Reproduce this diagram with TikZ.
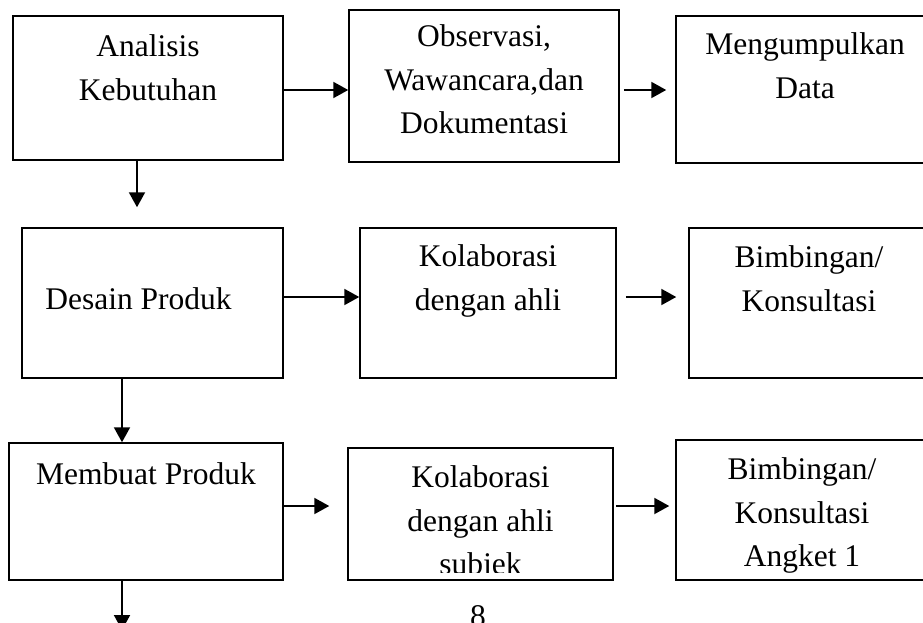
\documentclass[tikz,border=0pt]{standalone}
\usepackage{fontspec}
\setmainfont{Liberation Serif}
\usepackage{tikz}
\usetikzlibrary{positioning}
\usetikzlibrary{arrows.meta}

\begin{document}
\begin{tikzpicture}
  [
    x=1pt, y=-1pt,
    box/.style={draw=black, line width=1.5pt, inner sep=0pt},
    txt/.style={inner sep=0pt, align=center,
      font=\fontsize{31.5}{43.5}\selectfont},
    arr/.style={draw=black, line width=2pt,
      -{Triangle[length=15pt,width=16pt]}}
  ]
  \useasboundingbox (0,0) rectangle (923,623);
  \clip (0,0) rectangle (923,623);

  \node (ana)  at (148,88)    [box, minimum width=270pt, minimum height=144pt] {};
  \node (obs)  at (484,86)    [box, minimum width=270pt, minimum height=152pt] {};
  \node (data) at (805,89.5)  [box, minimum width=258pt, minimum height=147pt] {};

  \node (des)  at (152.5,303) [box, minimum width=261pt, minimum height=150pt] {};
  \node (kol)  at (488,303)   [box, minimum width=256pt, minimum height=150pt] {};
  \node (bim)  at (809,303)   [box, minimum width=240pt, minimum height=150pt] {};

  \node (mem)  at (146,511.5) [box, minimum width=274pt, minimum height=137pt] {};
  \node (kols) at (480.5,514) [box, minimum width=265pt, minimum height=132pt] {};
  \node (bima) at (802,510)   [box, minimum width=252pt, minimum height=140pt] {};

  \node (anaT)  [txt, below=19.5pt of ana.north]  {Analisis\\Kebutuhan};
  \node (obsT)  [txt, below=15.5pt of obs.north]  {Observasi,\\Wawancara,dan\\Dokumentasi};
  \node (dataT) [txt, below=17.5pt of data.north] {Mengumpulkan\\Data};

  \node (desT)  [txt, below=60.5pt of des.north, xshift=-14pt] {Desain Produk};
  \node (kolT)  [txt, below=17.5pt of kol.north]  {Kolaborasi\\dengan ahli};
  \node (bimT)  [txt, below=18.5pt of bim.north]  {Bimbingan/\\Konsultasi};

  \node (memT)  [txt, below=20.5pt of mem.north]  {Membuat Produk};
  \begin{scope}
    % last line runs out of the box
    \clip (kols.north west) rectangle ([yshift=8pt]kols.south east);
    \node (kolsT) [txt, below=18.5pt of kols.north] {Kolaborasi\\dengan ahli\\subjek};
  \end{scope}
  \node (bimaT) [txt, below=18.5pt of bima.north] {Bimbingan/\\Konsultasi\\Angket 1};

  \node (page) at (478,605) [txt, anchor=north] {8};
  \coordinate (next) at (122,630);

  % across
  \draw [arr] ([yshift=-2pt]ana.east) -- ([yshift=-4pt]obs.west);
  \draw [arr, shorten <=4pt, shorten >=9pt] ([yshift=-4pt]obs.east) -- ([yshift=-0.5pt]data.west);
  \draw [arr] ([yshift=6pt]des.east) -- ([yshift=6pt]kol.west);
  \draw [arr, shorten <=9pt, shorten >=12pt] ([yshift=6pt]kol.east) -- ([yshift=6pt]bim.west);
  \draw [arr, shorten >=18pt] ([yshift=5.5pt]mem.east) -- ([yshift=8pt]kols.west);
  \draw [arr, shorten <=2pt, shorten >=6pt] ([yshift=8pt]kols.east) -- ([yshift=4pt]bima.west);

  % down
  \draw [arr, shorten >=20pt] ([xshift=-11pt]ana.south) -- ([xshift=-15.5pt]des.north);
  \draw [arr] ([xshift=-30.5pt]des.south) -- ([xshift=-24pt]mem.north);
  \draw [arr] ([xshift=-24pt]mem.south) -- (next);
\end{tikzpicture}
\end{document}
